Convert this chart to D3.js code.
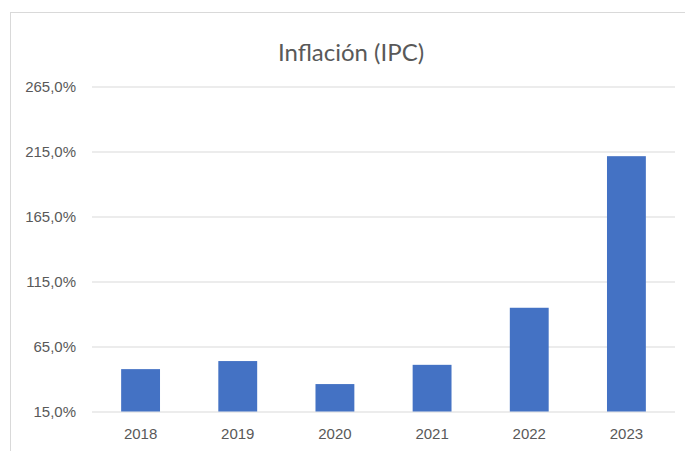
<!DOCTYPE html>
<html><head><meta charset="utf-8">
<script src="https://cdn.jsdelivr.net/npm/d3@7"></script>
<style>body{margin:0;background:#fff;}svg{display:block;font-family:Lato,"Open Sans",sans-serif;}</style>
</head><body>
<svg id="c" width="685" height="451"></svg>
<script>
const years = ["2018","2019","2020","2021","2022","2023"];
const inflation = [47.6, 53.8, 36.1, 50.9, 94.8, 211.4];
const yTicks = [15, 65, 115, 165, 215, 265];
const title = "Inflación (IPC)";

const svg = d3.select("#c");
// chart area border
svg.append("line").attr("x1",10.5).attr("x2",10.5).attr("y1",12).attr("y2",451).attr("stroke","#d9d9d9");
svg.append("line").attr("x1",10).attr("x2",685).attr("y1",12.5).attr("y2",12.5).attr("stroke","#d9d9d9");

const x = d3.scaleBand().domain(years).range([92, 675]).paddingInner(0.6).paddingOuter(0.3);
const y = d3.scaleLinear().domain([15, 265]).range([411.5, 86.5]);

const fmt = v => d3.format(".1f")(v).replace(".", ",") + "%";

const yAxis = svg.append("g").attr("transform","translate(92,0)")
  .call(d3.axisLeft(y).tickValues(yTicks).tickSize(-583).tickFormat(fmt).tickPadding(16));
yAxis.select(".domain").remove();
yAxis.selectAll("line").attr("stroke","#d9d9d9");
yAxis.selectAll("text").attr("fill","#595959").style("font-size","15px");

svg.append("g").selectAll("rect").data(years).join("rect")
  .attr("x", d => x(d))
  .attr("width", x.bandwidth())
  .attr("y", (d,i) => y(inflation[i]))
  .attr("height", (d,i) => y(15) - y(inflation[i]))
  .attr("fill","#4472c4");

const xAxis = svg.append("g").attr("transform","translate(0,411.5)")
  .call(d3.axisBottom(x).tickSize(0).tickPadding(17));
xAxis.select(".domain").remove();
xAxis.selectAll("text").attr("fill","#595959").style("font-size","15px");

svg.append("text").attr("x",351).attr("y",61).attr("text-anchor","middle")
  .attr("fill","#595959").style("font-size","24px").text(title);
</script>
</body></html>
